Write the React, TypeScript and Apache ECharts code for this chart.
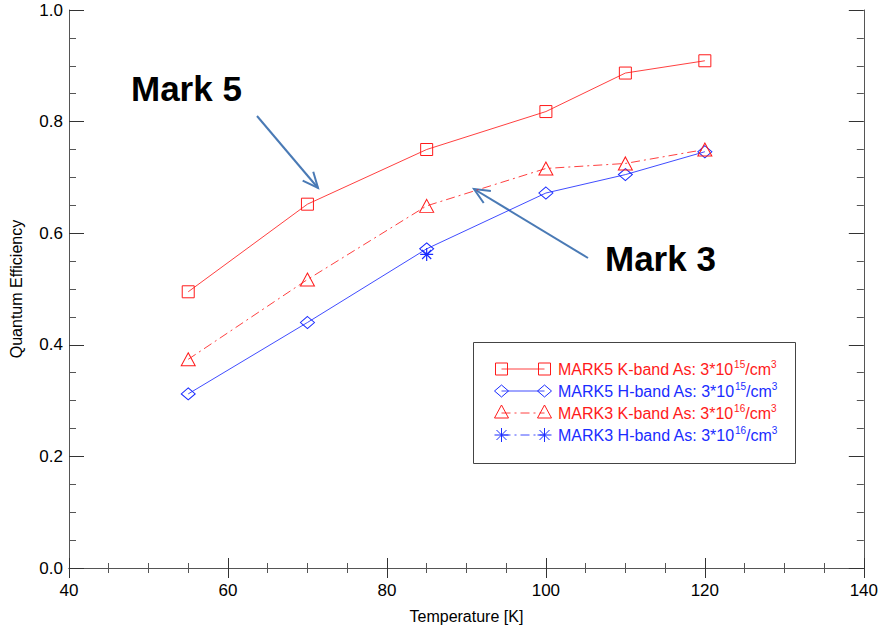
import React, { useEffect, useRef } from "react";
import * as echarts from "echarts";

const temps = [55, 70, 85, 100, 110, 120];
const mark5K = [0.495, 0.652, 0.75, 0.818, 0.887, 0.909];
const mark5H = [0.312, 0.44, 0.572, 0.672, 0.705, 0.746];
const mark3K = [0.374, 0.517, 0.649, 0.716, 0.725, 0.75];
const mark3HTemps = [85];
const mark3H = [0.562];

const seriesNames = [
  "MARK5 K-band As: 3*10^15/cm^3",
  "MARK5 H-band As: 3*10^15/cm^3",
  "MARK3 K-band As: 3*10^16/cm^3",
  "MARK3 H-band As: 3*10^16/cm^3",
];
const legendPrefix = ["MARK5 K-band As: 3*10", "MARK5 H-band As: 3*10", "MARK3 K-band As: 3*10", "MARK3 H-band As: 3*10"];
const legendExp = ["15", "15", "16", "16"];

const xTicks = { min: 40, max: 140, interval: 20 };
const yTicks = { min: 0, max: 1, interval: 0.2 };

const RED = "#ff1a1a";
const BLUE = "#1a2cff";
const LINE_RED = "rgba(255,30,30,0.85)";
const LINE_BLUE = "rgba(30,45,255,0.85)";
const ARROW = "#4a7ab5";
const STAR = "path://M6,0L6,12M0,6L12,6M1.8,1.8L10.2,10.2M1.8,10.2L10.2,1.8";
const DASHDOT = [9, 4, 2, 4];

const pairs = (xs: number[], ys: number[]) => xs.map((x, i) => [x, ys[i]]);

function arrow(x1: number, y1: number, x2: number, y2: number) {
  const a = Math.atan2(y2 - y1, x2 - x1);
  const L = 17;
  const s = 0.42;
  return [
    { type: "line", shape: { x1, y1, x2, y2 }, style: { stroke: ARROW, lineWidth: 2 } },
    {
      type: "polyline",
      shape: {
        points: [
          [x2 - L * Math.cos(a - s), y2 - L * Math.sin(a - s)],
          [x2, y2],
          [x2 - L * Math.cos(a + s), y2 - L * Math.sin(a + s)],
        ],
      },
      style: { stroke: ARROW, lineWidth: 2, fill: "none" },
    },
  ];
}

function legendSymbol(kind: number, cx: number, cy: number, color: string): any[] {
  const st = { stroke: color, lineWidth: 1, fill: "none" };
  if (kind === 0) return [{ type: "rect", shape: { x: cx - 6, y: cy - 6, width: 12, height: 12 }, style: st }];
  if (kind === 1)
    return [{ type: "polygon", shape: { points: [[cx, cy - 6], [cx + 7, cy], [cx, cy + 6], [cx - 7, cy]] }, style: st }];
  if (kind === 2)
    return [{ type: "polygon", shape: { points: [[cx, cy - 8], [cx + 7, cy + 5], [cx - 7, cy + 5]] }, style: st }];
  return [
    { type: "line", shape: { x1: cx, y1: cy - 7, x2: cx, y2: cy + 7 }, style: st },
    { type: "line", shape: { x1: cx - 7, y1: cy, x2: cx + 7, y2: cy }, style: st },
    { type: "line", shape: { x1: cx - 5, y1: cy - 5, x2: cx + 5, y2: cy + 5 }, style: st },
    { type: "line", shape: { x1: cx - 5, y1: cy + 5, x2: cx + 5, y2: cy - 5 }, style: st },
  ];
}

export default function App() {
  const ref = useRef<HTMLDivElement>(null);
  useEffect(() => {
    if (!ref.current) return;
    const chart = echarts.init(ref.current, null, { renderer: "svg" });
    const font = "'Liberation Sans', Arial, sans-serif";
    const axisCommon = {
      axisLine: { show: true, lineStyle: { color: "#555", width: 1 } },
      splitLine: { show: false },
    };
    const legendColors = [RED, BLUE, RED, BLUE];
    const legendLineColors = [LINE_RED, LINE_BLUE, LINE_RED, LINE_BLUE];
    const legendDash: any[] = ["solid", "solid", DASHDOT, DASHDOT];
    const rowY = [369, 391, 413, 435];
    const legendGraphics: any[] = [
      { type: "rect", shape: { x: 473.5, y: 342.5, width: 322, height: 121 }, style: { stroke: "#444", lineWidth: 1, fill: "#fff" } },
    ];
    rowY.forEach((y, i) => {
      legendGraphics.push({
        type: "line",
        shape: { x1: 501.5, y1: y, x2: 544.5, y2: y },
        style: { stroke: legendLineColors[i], lineWidth: 1, lineDash: legendDash[i] === "solid" ? null : legendDash[i] },
      });
      legendGraphics.push(...legendSymbol(i, 501.5, y, legendColors[i]));
      legendGraphics.push(...legendSymbol(i, 544.5, y, legendColors[i]));
      legendGraphics.push({
        type: "text",
        x: 558,
        y: y,
        style: {
          text: `{a|${legendPrefix[i]}}{s|${legendExp[i]}}{a|/cm}{s|3}`,
          verticalAlign: "middle",
          rich: {
            a: { fontSize: 16, fontFamily: font, fill: legendColors[i], color: legendColors[i] },
            s: { fontSize: 10, fontFamily: font, fill: legendColors[i], color: legendColors[i], verticalAlign: "bottom", padding: [0, 0, 10, 0] },
          },
        },
      });
    });

    chart.setOption({
      animation: false,
      backgroundColor: "#ffffff",
      grid: { left: 68, right: 17, top: 10, bottom: 59, containLabel: false },
      xAxis: [
        {
          type: "value",
          ...xTicks,
          position: "bottom",
          name: "Temperature [K]",
          nameLocation: "middle",
          nameGap: 40,
          nameTextStyle: { fontSize: 16, fontFamily: font, color: "#000" },
          ...axisCommon,
          axisTick: { show: true, inside: true, length: 10, lineStyle: { color: "#333" } },
          minorTick: { show: true, splitNumber: 4, length: 5, lineStyle: { color: "#555" } },
          axisLabel: { fontSize: 17, fontFamily: font, color: "#000", margin: 14 },
        },
        {
          type: "value",
          ...xTicks,
          position: "top",
          ...axisCommon,
          axisTick: { show: true, inside: true, length: 10, lineStyle: { color: "#333" } },
          minorTick: { show: true, splitNumber: 4, length: 5, lineStyle: { color: "#555" } },
          axisLabel: { show: false },
        },
      ],
      yAxis: [
        {
          type: "value",
          ...yTicks,
          position: "left",
          name: "Quantum Efficiency",
          nameLocation: "middle",
          nameGap: 45,
          nameTextStyle: { fontSize: 16, fontFamily: font, color: "#000" },
          ...axisCommon,
          axisTick: { show: true, inside: true, length: 15, lineStyle: { color: "#333" } },
          minorTick: { show: true, splitNumber: 4, length: 7, lineStyle: { color: "#555" } },
          axisLabel: { fontSize: 17, fontFamily: font, color: "#000", margin: 6, formatter: (v: number) => v.toFixed(1) },
        },
        {
          type: "value",
          ...yTicks,
          position: "right",
          ...axisCommon,
          axisTick: { show: true, inside: true, length: 15, lineStyle: { color: "#333" } },
          minorTick: { show: true, splitNumber: 4, length: 7, lineStyle: { color: "#555" } },
          axisLabel: { show: false },
        },
      ],
      series: [
        {
          name: seriesNames[0],
          type: "line",
          data: pairs(temps, mark5K),
          symbol: "rect",
          symbolSize: 12,
          lineStyle: { color: LINE_RED, width: 1 },
          itemStyle: { color: "rgba(0,0,0,0)", borderColor: RED, borderWidth: 1 },
          z: 3,
        },
        {
          name: seriesNames[1],
          type: "line",
          data: pairs(temps, mark5H),
          symbol: "diamond",
          symbolSize: [14, 12],
          lineStyle: { color: LINE_BLUE, width: 1 },
          itemStyle: { color: "rgba(0,0,0,0)", borderColor: BLUE, borderWidth: 1 },
          z: 3,
        },
        {
          name: seriesNames[2],
          type: "line",
          data: pairs(temps, mark3K),
          symbol: "triangle",
          symbolSize: [14, 13],
          lineStyle: { color: LINE_RED, width: 1, type: DASHDOT },
          itemStyle: { color: "rgba(0,0,0,0)", borderColor: RED, borderWidth: 1 },
          z: 3,
        },
        {
          name: seriesNames[3],
          type: "line",
          data: pairs(mark3HTemps, mark3H),
          symbol: STAR,
          symbolSize: 13,
          lineStyle: { color: LINE_BLUE, width: 1, type: DASHDOT },
          itemStyle: { color: "rgba(0,0,0,0)", borderColor: BLUE, borderWidth: 1.2 },
          z: 4,
        },
      ],
      graphic: [
        ...legendGraphics,
        { type: "text", x: 131, y: 88, style: { text: "Mark 5", fontSize: 35, fontWeight: "bold", fontFamily: font, fill: "#000", verticalAlign: "middle" } },
        { type: "text", x: 605, y: 258, style: { text: "Mark 3", fontSize: 35, fontWeight: "bold", fontFamily: font, fill: "#000", verticalAlign: "middle" } },
        ...arrow(257, 116, 318, 188),
        ...arrow(588, 258, 474, 189),
      ],
    });
    return () => chart.dispose();
  }, []);
  return <div ref={ref} style={{ position: "fixed", left: 0, top: 0, width: 881, height: 629, background: "#fff" }} />;
}
